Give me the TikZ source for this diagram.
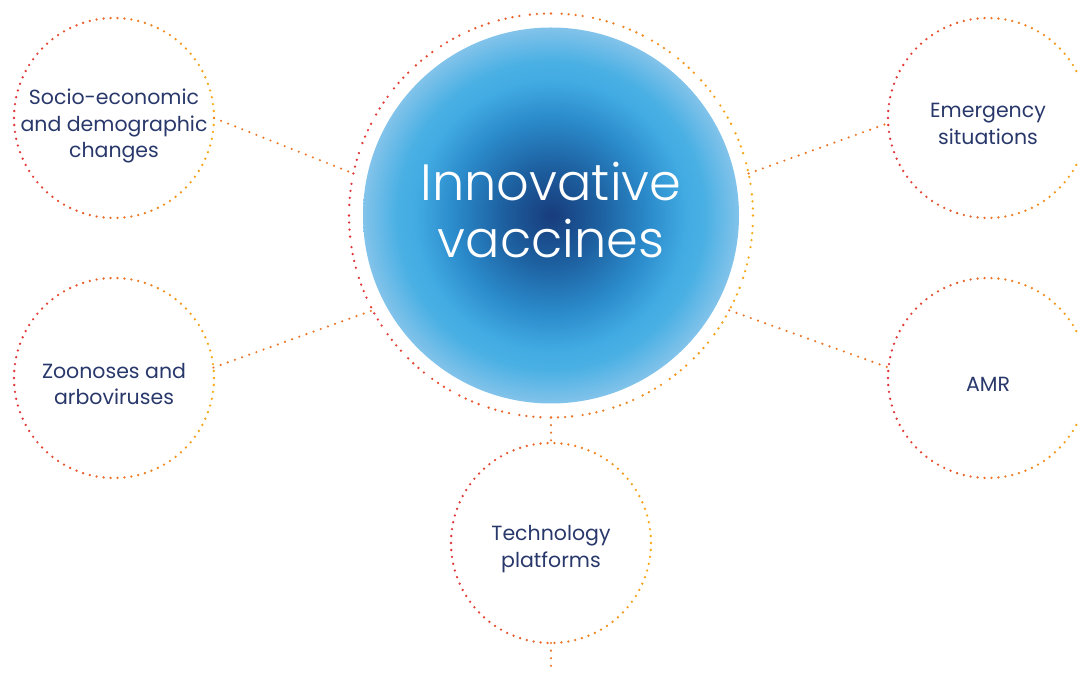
\documentclass[tikz,border=0pt]{standalone}
\usepackage{fontspec}
\setmainfont{Poppins}
\IfFontExistsTF{Poppins Light}
  {\newfontfamily\corefont{Poppins Light}}
  {\newfontfamily\corefont{Lato}}
\definecolor{textnavy}{RGB}{41,56,107}
\definecolor{dotred}{RGB}{224,52,58}
\definecolor{dotamber}{RGB}{246,170,22}
\definecolor{linkorange}{RGB}{236,118,40}
\definecolor{coreblue}{RGB}{24,60,124}
\definecolor{deepblue}{RGB}{29,96,160}
\definecolor{midblue}{RGB}{43,139,203}
\definecolor{skyblue}{RGB}{66,171,226}
\definecolor{lightsky}{RGB}{74,176,228}
\definecolor{paleblue}{RGB}{130,195,234}
% the circle's edge sits at 25bp
\pgfdeclareradialshading{vaccine-glow}{\pgfpoint{0bp}{0bp}}{
  color(0bp)=(coreblue); color(6.5bp)=(deepblue); color(13bp)=(midblue);
  color(18bp)=(skyblue); color(20.5bp)=(lightsky); color(25bp)=(paleblue);
  color(50bp)=(paleblue)}
\tikzset{
  core/.style={
    circle, minimum size=376, inner sep=0pt, outer sep=0pt,
    shading=vaccine-glow
  },
  core-text/.style={
    text=white, align=center, inner sep=0pt,
    font=\corefont\fontsize{51}{57}\selectfont
  },
  ring/.style={circle, minimum size=404, inner sep=0pt, outer sep=0pt},
  bubble/.style={circle, minimum size=200, inner sep=0pt, outer sep=0pt},
  topic/.style={
    align=center, text=textnavy, inner sep=0pt,
    font=\fontsize{20.5}{26.5}\selectfont
  },
  link/.style={
    linkorange, line width=2.4pt, line cap=round,
    dash pattern=on 0pt off 7.6pt
  }
}
% dotted outline, red on the left and amber on the right
\newcommand{\dotring}[2]{
  \foreach \a in {0,#2,...,359.9} {
    \pgfmathsetmacro{\mix}{50+50*cos(\a)}
    \fill[dotamber!\mix!dotred] (#1.\a) circle (1.3);
  }
}

\begin{document}
\begin{tikzpicture}[x=1pt,y=1pt]
  \useasboundingbox (0,0) rectangle (1078,672);

  % Centre
  \node[ring] (ring) at (551,456.5) {};
  \node[core] (core) at (551,456.5) {};
  \node[core-text] (core-text) at ([yshift=5]core.center) {Innovative\\vaccines};

  % Topics
  \node[bubble] (socio) at (114,554) {};
  \node[bubble] (zoo) at (114,294) {};
  \node[bubble] (emerg) at (988,554) {};
  \node[bubble] (amr) at (988,294) {};
  \node[bubble] (tech) at (551,129) {};
  \coordinate (tail) at (551,0);

  \node[topic] (socio-text) at ([yshift=-8]socio.center) {Socio-economic\\and demographic\\changes};
  \node[topic] (zoo-text) at ([yshift=-6]zoo.center) {Zoonoses and\\arboviruses};
  \node[topic] (emerg-text) at ([yshift=-6]emerg.center) {Emergency\\situations};
  \node[topic] (amr-text) at ([yshift=-6]amr.center) {AMR};
  \node[topic] (tech-text) at ([yshift=-6]tech.center) {Technology\\platforms};

  % Outlines
  \dotring{ring}{2.25}
  \foreach \n in {socio,zoo,emerg,amr,tech} {
    \dotring{\n}{4}
  }

  % Links
  \draw[link] (socio.east) -- (ring.168);
  \draw[link] (zoo.6) -- (ring.208);
  \draw[link] (ring.12) -- (emerg.183);
  \draw[link] (ring.-28) -- (amr.174);
  \draw[link] (ring.south) -- (tech.north);
  \draw[link] (tech.south) -- (tail);
\end{tikzpicture}
\end{document}
